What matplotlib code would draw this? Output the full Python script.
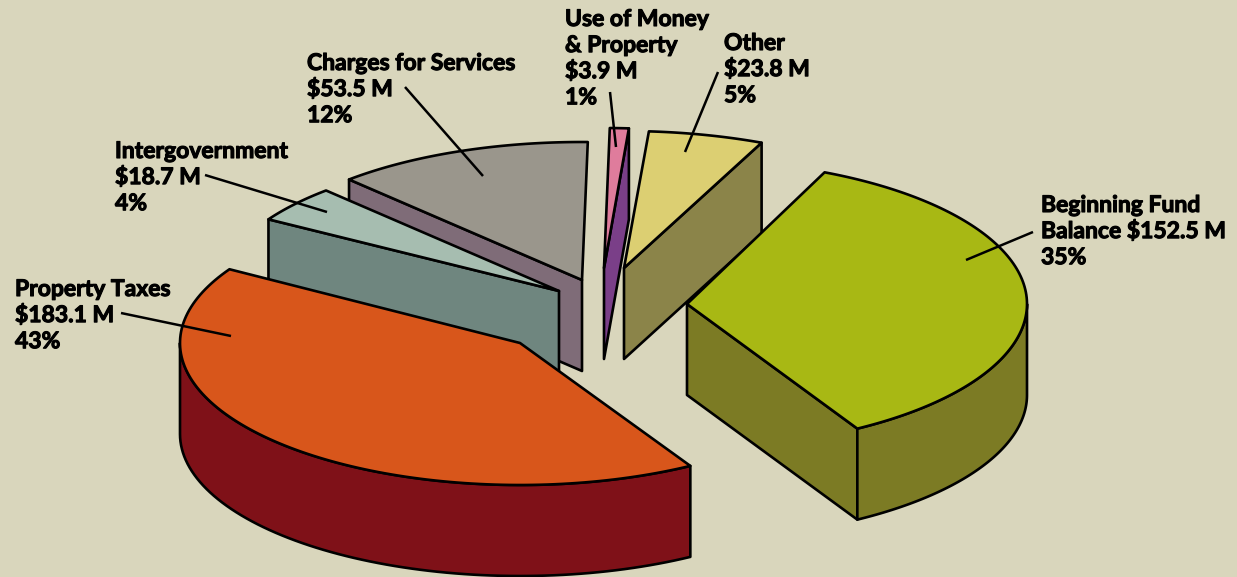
import numpy as np
import matplotlib
matplotlib.use("Agg")
import matplotlib.pyplot as plt
import matplotlib.patheffects as pe
from matplotlib.patches import Polygon

# revenue sources, clockwise from the top of the pie
sources = ["Other", "Beginning Fund Balance", "Property Taxes", "Intergovernment", "Charges for Services", "Use of Money & Property"]
amounts = [23.8, 152.5, 183.1, 18.7, 53.5, 3.9]
percents = [5, 35, 43, 4, 12, 1]

top_colors = ["#DCCF72", "#A8B814", "#D8561B", "#A6BDB0", "#9A968C", "#DF7C9C"]
side_colors = ["#8B8449", "#7C7B24", "#7F1118", "#6F867F", "#7F6C78", "#7A3F88"]

# how far each slice is pulled out of the pie, pixels
pull_x = [24, 87, -80, -41, -18, 4]
pull_y = [-38, -2, 37, -15, -26, -38]
# tilted height of each slice, the near ones come out a bit taller
radius_y = [137, 144, 142, 138, 138, 140]

BG = "#D9D6BC"
CX, CY = 600, 306   # pie centre, pixels
RX = 340
DEPTH = 91
START = 4.2   # degrees clockwise from 12 o'clock
LW = 1.9


def rim(ang, ox, oy, ry):
	# ang in degrees clockwise from the top
	t = np.radians(ang)
	return np.column_stack([ox + RX*np.sin(t), oy - ry*np.cos(t)])


def wall(ax, pts, color):
	pts = np.asarray(pts)
	low = pts[::-1] + [0, DEPTH]
	ax.add_patch(Polygon(np.vstack([pts, low]), closed=True, fc=color, ec="black", lw=LW, joinstyle="round"))


def draw_slice(ax, a0, a1, ox, oy, ry, top, side):
	apex = np.array([[ox, oy]])
	# only the faces turned to the viewer get drawn
	if np.sin(np.radians(a0)) < -0.03:
		wall(ax, np.vstack([apex, rim([a0], ox, oy, ry)]), side)
	if np.sin(np.radians(a1)) > 0.03:
		wall(ax, np.vstack([apex, rim([a1], ox, oy, ry)]), side)
	f0, f1 = max(a0, 90), min(a1, 270)
	if f1 > f0:
		wall(ax, rim(np.linspace(f0, f1, 80), ox, oy, ry), side)
	arc = rim(np.linspace(a0, a1, 120), ox, oy, ry)
	ax.add_patch(Polygon(np.vstack([apex, arc]), closed=True, fc=top, ec="black", lw=LW, joinstyle="round"))


fig = plt.figure(figsize=(12.37, 5.77), dpi=100, facecolor=BG)
ax = fig.add_axes([0, 0, 1, 1])
ax.set_xlim(0, 1237)
ax.set_ylim(577, 0)
ax.axis("off")

sweeps = np.array(amounts)/sum(amounts)*360
starts = START + np.concatenate([[0], np.cumsum(sweeps)[:-1]])

# back slices first so the front ones sit over them
for i in [5, 4, 0, 3, 1, 2]:
	draw_slice(ax, starts[i], starts[i]+sweeps[i], CX+pull_x[i], CY+pull_y[i], radius_y[i], top_colors[i], side_colors[i])

text_lines = [
	"Other\n${} M\n{}%",
	"Beginning Fund\nBalance ${} M\n{}%",
	"Property Taxes\n${} M\n{}%",
	"Intergovernment\n${} M\n{}%",
	"Charges for Services\n${} M\n{}%",
	"Use of Money\n& Property\n${} M\n{}%",
]
text_xy = [(724, 33), (1041, 195), (15, 279), (115, 141), (307, 53), (565, 9)]
leaders = [
	((718, 72), (685, 152)),
	((1033, 232), (966, 260)),
	((121, 313), (231, 336)),
	((205, 175), (327, 212)),
	((405, 87), (483, 176)),
	((610, 92), (616, 147)),
]

for i, s in enumerate(text_lines):
	lab = s.format(amounts[i], percents[i]).replace("$", r"\$")
	t = ax.text(text_xy[i][0], text_xy[i][1], lab, fontsize=16.5, fontfamily="Lato", fontweight="bold",
		va="top", ha="left", linespacing=1.3, color="black")
	t.set_path_effects([pe.withStroke(linewidth=0.8, foreground="black")])
	ax.plot(*zip(*leaders[i]), color="black", lw=1.8, solid_capstyle="butt")

fig.savefig("out.png", dpi=100, facecolor=BG)
